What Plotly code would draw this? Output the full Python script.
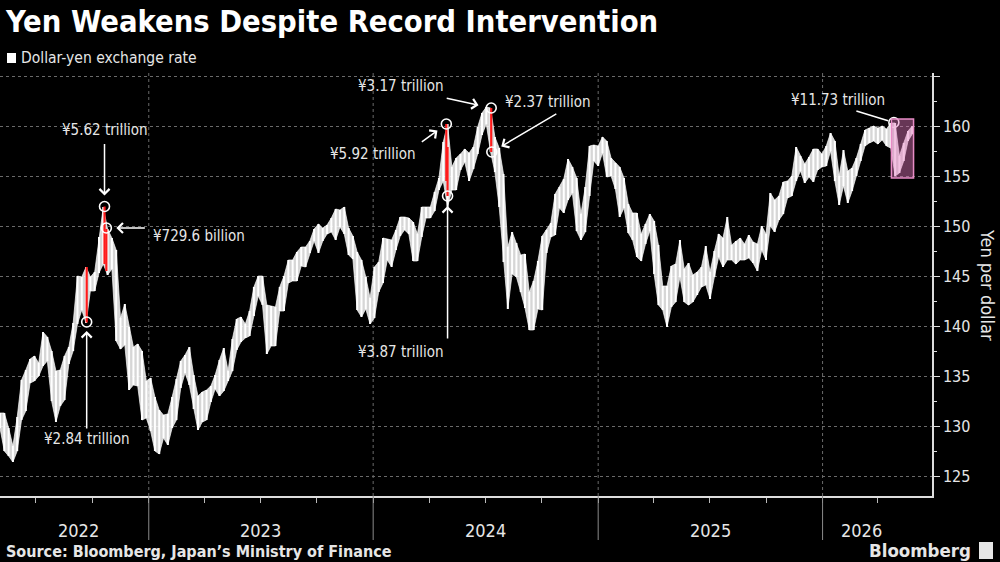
import plotly.graph_objects as go
import pandas as pd

# ---------------- data ----------------
week_start = "2022-05-04"  # weekly bars, one per week (mid-week dates)
weekly_low = [
    129.8, 127.5, 127.0, 126.4, 127.5, 130.6, 131.5, 134.3, 134.5, 135.0,
    136.0, 136.5, 132.5, 130.4, 132.0, 132.6, 136.2, 137.5, 140.2, 141.6,
    140.3, 143.5, 143.5, 145.3, 146.2, 145.1, 145.7, 138.5, 137.7, 138.1,
    133.6, 134.1, 134.0, 130.6, 130.8, 129.5, 127.5, 127.2, 128.8, 128.1,
    129.8, 130.6, 133.8, 135.3, 134.1, 131.7, 129.6, 130.4, 130.6, 132.4,
    133.7, 133.0, 133.5, 134.5, 135.5, 137.6, 138.4, 138.8, 139.0, 141.0,
    143.0, 142.1, 137.2, 138.0, 138.0, 141.5, 141.5, 144.3, 144.5, 144.5,
    146.0, 145.9, 147.3, 148.5, 147.3, 148.5, 149.2, 149.4, 148.6, 149.9,
    149.2, 147.1, 146.7, 141.6, 140.9, 141.7, 140.2, 140.8, 143.4, 144.3,
    146.6, 145.9, 147.6, 149.0, 149.6, 149.2, 146.5, 146.5, 148.9, 150.8,
    150.8, 151.5, 153.6, 154.5, 151.9, 153.6, 153.6, 155.6, 156.4, 154.5,
    155.7, 157.2, 159.1, 160.2, 157.4, 155.4, 151.9, 146.4, 141.7, 145.2,
    144.9, 143.4, 141.8, 139.6, 139.6, 141.7, 141.6, 147.3, 148.9, 149.1,
    151.8, 151.3, 152.6, 153.3, 149.5, 148.6, 149.4, 153.0, 156.5, 156.0,
    157.3, 154.9, 155.0, 153.7, 150.9, 151.8, 149.3, 148.6, 146.9, 146.5,
    148.2, 149.5, 145.2, 142.1, 141.6, 139.9, 141.9, 142.4, 144.9, 142.4,
    142.1, 142.4, 143.1, 143.9, 144.1, 142.7, 144.9, 146.9, 145.9, 146.6,
    146.6, 146.2, 146.6, 146.6, 146.8, 146.3, 145.5, 147.6, 146.6, 150.0,
    149.4, 150.6, 151.2, 152.8, 153.0, 154.5, 155.5, 154.3, 154.9, 154.4,
    155.6, 155.9, 156.0, 157.5, 154.5, 152.1, 154.0, 152.3, 153.5, 155.0,
    156.5, 158.0, 158.3, 158.5, 158.2, 158.6, 158.0, 157.8, 155.0, 155.3,
    156.5, 158.5, 159.2,
]
weekly_high = [
    131.3, 131.3, 129.8, 128.0, 130.9, 134.6, 135.6, 136.7, 137.0, 136.3,
    139.4, 138.9, 137.5, 135.5, 135.6, 137.0, 137.9, 140.3, 145.0, 144.9,
    145.9, 144.9, 145.4, 148.9, 151.9, 149.7, 148.8, 147.6, 140.8, 142.2,
    139.9, 137.9, 138.2, 137.5, 134.5, 134.8, 132.9, 131.6, 131.1, 131.2,
    132.9, 134.7, 136.5, 137.1, 137.9, 135.1, 133.0, 133.4, 133.6, 134.0,
    135.1, 136.6, 137.8, 135.5, 138.7, 140.7, 140.9, 140.2, 141.5, 143.9,
    145.0, 145.0, 142.1, 142.0, 141.9, 143.9, 145.0, 146.6, 146.6, 147.4,
    147.9, 147.9, 148.5, 149.7, 150.2, 149.8, 150.1, 150.8, 151.7, 151.6,
    151.9, 149.8, 149.0, 147.4, 146.6, 144.9, 142.8, 145.9, 146.4, 148.8,
    148.7, 148.6, 149.6, 150.9, 150.9, 150.8, 150.4, 149.2, 151.9, 151.9,
    151.9, 153.4, 154.8, 158.4, 160.2, 155.9, 156.8, 157.2, 157.7, 157.3,
    157.9, 159.9, 161.3, 161.9, 161.8, 158.9, 157.8, 155.2, 147.9, 149.4,
    148.3, 147.1, 147.2, 143.4, 144.5, 146.5, 149.0, 149.6, 150.3, 153.2,
    153.9, 154.7, 156.7, 155.9, 154.8, 151.2, 153.9, 158.0, 158.1, 158.0,
    158.9, 158.5, 156.8, 156.3, 155.9, 154.8, 152.2, 151.3, 151.3, 149.2,
    150.2, 151.2, 150.5, 148.1, 144.0, 144.0, 146.0, 146.2, 148.6, 145.7,
    146.3, 145.1, 145.4, 145.9, 148.0, 145.4, 147.5, 149.2, 148.8, 150.9,
    148.1, 148.5, 148.8, 148.2, 149.1, 148.4, 148.2, 150.0, 149.2, 153.3,
    152.6, 153.0, 154.4, 154.5, 155.0, 157.9, 157.0, 156.2, 156.9, 157.7,
    157.7, 157.2, 158.0, 159.3, 158.5, 155.0, 157.6, 155.5, 155.8, 156.8,
    158.2, 159.6, 159.8, 160.0, 159.8, 160.0, 159.7, 160.3, 160.3, 157.0,
    158.3, 159.5, 160.0,
]

# intervention days: daily low-high range (red bars)
interv_dates = ["2022-09-22", "2022-10-21", "2022-10-24", "2024-04-29", "2024-05-01", "2024-07-11"]
interv_low = [140.35, 146.2, 145.5, 154.5, 153.0, 157.4]
interv_high = [145.9, 151.95, 149.7, 160.2, 157.9, 161.8]

# annotated points
marker_dates = ["2022-09-22", "2022-10-21", "2022-10-24", "2024-04-29",
                "2024-05-01", "2024-07-11", "2024-07-12", "2026-04-27"]
marker_values = [140.4, 151.95, 149.8, 160.2, 153.0, 161.8, 157.4, 160.35]
marker_labels = ["¥2.84 trillion", "¥5.62 trillion", "¥729.6 billion", "¥5.92 trillion",
                 "¥3.87 trillion", "¥3.17 trillion", "¥2.37 trillion", "¥11.73 trillion"]

# latest intervention highlight box
box_dates = ["2026-04-23", "2026-05-29"]
box_values = [154.8, 160.7]

year_labels = ["2022", "2023", "2024", "2025", "2026"]
year_starts = ["2023-01-01", "2024-01-01", "2025-01-01", "2026-01-01"]
y_tick_values = [125, 130, 135, 140, 145, 150, 155, 160, 165]
y_tick_labels = ["125", "130", "135", "140", "145", "150", "155", "160", ""]

# ---------------- layout constants ----------------
W, H = 1000, 562
ML, MR, MT, MB = 0, 68, 73, 66
PW, PH = W - ML - MR, H - MT - MB
FONT = "DejaVu Sans Condensed, DejaVu Sans, sans-serif"
TXT = "#e6e6e6"


def px(x, y):
    return (x - ML) / PW, (H - MB - y) / PH


weeks = pd.date_range(week_start, periods=len(weekly_low), freq="7D")

fig = go.Figure()
# band between weekly low and high
fig.add_trace(go.Scatter(x=weeks, y=weekly_low, mode="lines",
                         line=dict(color="rgba(255,255,255,0.85)", width=0.8),
                         hoverinfo="skip", showlegend=False))
fig.add_trace(go.Scatter(x=weeks, y=weekly_high, mode="lines", fill="tonexty",
                         fillcolor="rgba(255,255,255,0.84)",
                         line=dict(color="rgba(255,255,255,0.85)", width=0.8),
                         hoverinfo="skip", showlegend=False))
# weekly high-low bars
bx_, by_ = [], []
for d, lo, hi in zip(weeks, weekly_low, weekly_high):
    bx_ += [d, d, None]
    by_ += [lo, hi, None]
fig.add_trace(go.Scatter(x=bx_, y=by_, mode="lines", line=dict(color="white", width=2),
                         hoverinfo="skip", showlegend=False))

rx, ry = [], []
for d, lo, hi in zip(interv_dates, interv_low, interv_high):
    rx += [d, d, None]
    ry += [lo, hi, None]
fig.add_trace(go.Scatter(x=rx, y=ry, mode="lines", line=dict(color="#ff1a1a", width=2.2),
                         hoverinfo="skip", showlegend=False))

fig.add_trace(go.Scatter(x=marker_dates, y=marker_values, mode="markers",
                         marker=dict(symbol="circle-open", size=10, color="white",
                                     line=dict(width=1.6, color="white")),
                         hoverinfo="skip", showlegend=False))

# arrow geometry (pixel offsets of tail relative to point), and label pixel centres
arrow_style = [
    dict(ax=0, ay=108, standoff=9, head=4),
    dict(ax=0, ay=-64, standoff=11, head=4),
    dict(ax=40, ay=0, standoff=10, head=4),
    dict(ax=-26, ay=19, standoff=11, head=4),
    dict(ax=0, ay=144, standoff=10, head=4),
    dict(ax=-46, ay=-10, standoff=13, head=4),
    dict(ax=66, ay=-39, standoff=11, head=4),
    dict(ax=-39, ay=-12, standoff=6, head=0),
]
label_pos = [(87, 439, "center"), (105, 130, "center"), (151, 236, "left"), (373, 154, "center"),
             (401, 352, "center"), (401, 86, "center"), (548, 102, "center"), (838, 100, "center")]

annotations = []
for d, v, lab, st, lp in zip(marker_dates, marker_values, marker_labels, arrow_style, label_pos):
    annotations.append(dict(x=d, y=v, xref="x", yref="y", ax=st["ax"], ay=st["ay"], text="",
                            showarrow=True, arrowhead=st["head"], arrowsize=1.3, arrowwidth=1.5,
                            arrowcolor="white", standoff=st["standoff"]))
    xx, yy = px(lp[0], lp[1])
    annotations.append(dict(x=xx, y=yy, xref="paper", yref="paper", text=lab, showarrow=False,
                            xanchor=lp[2], yanchor="middle", font=dict(family=FONT, size=15, color=TXT)))

# year labels
xr0, xr1 = pd.Timestamp("2022-05-04"), pd.Timestamp("2026-06-28")
year_label_px = [78, 260, 485, 710, 861]
for lab, xp in zip(year_labels, year_label_px):
    xx, yy = px(xp, 530)
    annotations.append(dict(x=xx, y=yy, xref="paper", yref="paper", text=lab,
                            showarrow=False, xanchor="center", yanchor="middle",
                            font=dict(family=FONT, size=18, color=TXT)))

# title, legend, source, axis title, brand
tx, ty = px(3, 21)
annotations.append(dict(x=tx, y=ty, xref="paper", yref="paper", text="<b>Yen Weakens Despite Record Intervention</b>",
                        showarrow=False, xanchor="left", yanchor="middle",
                        font=dict(family=FONT, size=30.6, color="white")))
lx, ly = px(19, 58)
annotations.append(dict(x=lx, y=ly, xref="paper", yref="paper", text="Dollar-yen exchange rate",
                        showarrow=False, xanchor="left", yanchor="middle",
                        font=dict(family=FONT, size=15.5, color=TXT)))
sx, sy = px(4, 551)
annotations.append(dict(x=sx, y=sy, xref="paper", yref="paper",
                        text="<b>Source: Bloomberg, Japan’s Ministry of Finance</b>",
                        showarrow=False, xanchor="left", yanchor="middle",
                        font=dict(family=FONT, size=16, color=TXT)))
bx, by = px(973, 550)
annotations.append(dict(x=bx, y=by, xref="paper", yref="paper", text="<b>Bloomberg</b>",
                        showarrow=False, xanchor="right", yanchor="middle",
                        font=dict(family=FONT, size=18.5, color=TXT)))
ax_, ay_ = px(988, 285)
annotations.append(dict(x=ax_, y=ay_, xref="paper", yref="paper", text="Yen per dollar",
                        showarrow=False, textangle=90, xanchor="center", yanchor="middle",
                        font=dict(family=FONT, size=18, color=TXT)))

shapes = []
# legend swatch
x0, y0 = px(7, 63)
x1, y1 = px(16, 53)
shapes.append(dict(type="rect", xref="paper", yref="paper", x0=x0, x1=x1, y0=y0, y1=y1,
                   fillcolor="white", line=dict(width=0)))
# brand icon
x0, y0 = px(979, 559)
x1, y1 = px(993, 542)
shapes.append(dict(type="rect", xref="paper", yref="paper", x0=x0, x1=x1, y0=y0, y1=y1,
                   fillcolor="#e6e6e6", line=dict(width=0)))
# year gridlines and separators
for s in year_starts:
    shapes.append(dict(type="line", xref="x", yref="paper", x0=s, x1=s, y0=0, y1=1,
                       line=dict(color="#6a6a6a", width=1, dash="dot"), layer="below"))
    shapes.append(dict(type="line", xref="x", yref="paper", x0=s, x1=s, y0=0, y1=px(0, 540)[1],
                       line=dict(color="#8a8a8a", width=1)))
# highlight box
shapes.append(dict(type="rect", xref="x", yref="y", x0=box_dates[0], x1=box_dates[1],
                   y0=box_values[0], y1=box_values[1], fillcolor="rgba(228,120,190,0.45)",
                   line=dict(color="#e88cc6", width=1.5), layer="above"))

fig.update_layout(
    width=W, height=H, margin=dict(l=ML, r=MR, t=MT, b=MB),
    paper_bgcolor="black", plot_bgcolor="black",
    showlegend=False, annotations=annotations, shapes=shapes,
    font=dict(family=FONT, color=TXT),
    xaxis=dict(type="date", range=[xr0, xr1], showgrid=False, zeroline=False,
               showline=True, linecolor="#dddddd", linewidth=1.5,
               ticks="outside", ticklen=5, tickcolor="#bbbbbb", tickwidth=1,
               tickmode="linear", tick0="2022-01-01", dtick="M3", showticklabels=False),
    yaxis=dict(range=[123, 165.3], side="right", showgrid=True, gridcolor="#6a6a6a",
               griddash="dot", gridwidth=1, zeroline=False,
               showline=True, linecolor="#dddddd", linewidth=1.5,
               tickmode="array", tickvals=y_tick_values, ticktext=y_tick_labels,
               ticks="outside", ticklen=6, tickcolor="#dddddd",
               tickfont=dict(family=FONT, size=16, color=TXT),
               minor=dict(ticks="outside", ticklen=3, tickcolor="#dddddd",
                          tickmode="linear", tick0=122.5, dtick=5, showgrid=False)),
)

fig.write_html("out.html")
